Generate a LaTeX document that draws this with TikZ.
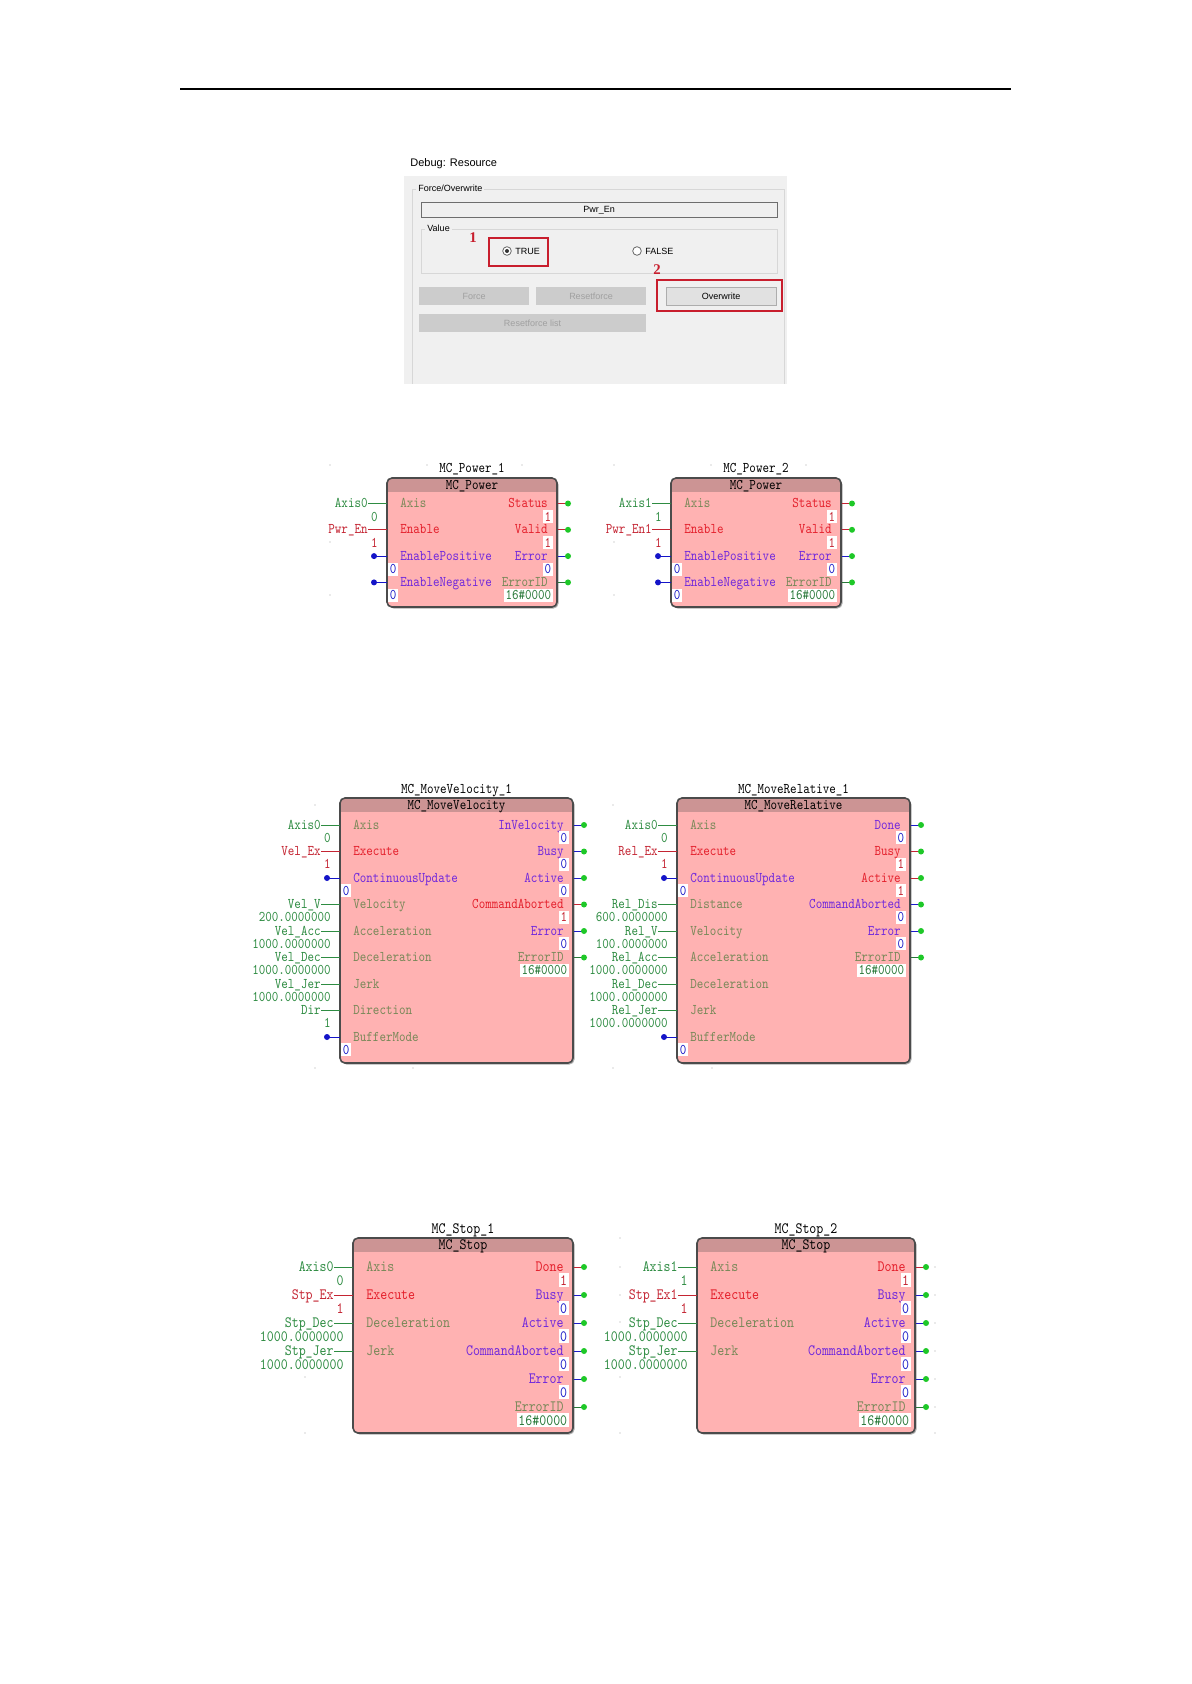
\documentclass[tikz,border=0pt]{standalone}
\usepackage{fontspec}
\setmainfont{Liberation Sans}
\newfontfamily\plcfont{lmmono10-regular}[Extension=.otf,FakeStretch=0.84]
\newfontfamily\digitfont{Liberation Serif}
\newcommand{\plcsize}{\fontsize{7.4}{8}\selectfont}
% dialog colours
\definecolor{panelgrey}{RGB}{240,240,240}
\definecolor{groupline}{RGB}{215,215,215}
\definecolor{boxline}{RGB}{110,110,110}
\definecolor{btnoff}{RGB}{204,204,204}
\definecolor{btntext}{RGB}{160,160,160}
\definecolor{btnon}{RGB}{225,225,225}
\definecolor{btnline}{RGB}{173,173,173}
\definecolor{markred}{RGB}{200,30,45}
% function block colours
\definecolor{fbbodyc}{RGB}{255,178,178}
\definecolor{fbheadc}{RGB}{204,148,148}
\definecolor{fbline}{RGB}{75,75,75}
\definecolor{fbshade}{RGB}{175,175,175}
\definecolor{pinolive}{RGB}{120,136,88}
\definecolor{pinred}{RGB}{228,32,44}
\definecolor{pinpurple}{RGB}{112,40,220}
\definecolor{vargreen}{RGB}{46,140,66}
\definecolor{varred}{RGB}{196,36,50}
\definecolor{valblue}{RGB}{28,28,200}
\definecolor{valgreen}{RGB}{40,120,56}
\definecolor{dotgreen}{RGB}{30,200,40}
\definecolor{dotblue}{RGB}{20,20,200}

\begin{document}
\begin{tikzpicture}[x=0.5pt,y=-0.5pt]
 \tikzstyle{plc} = [font=\plcfont\plcsize,inner sep=0pt]
 \tikzstyle{valbox} = [fill=white,inner xsep=0.7pt,inner ysep=0.9pt]
 \tikzstyle{outdot} = [circle,fill=dotgreen,inner sep=0pt,minimum size=3pt]
 \tikzstyle{indot} = [circle,fill=dotblue,inner sep=0pt,minimum size=3pt]
 \tikzstyle{wire} = [line width=0.5pt]
 \tikzstyle{gridpt} = [gray!70]
 \tikzstyle{ui} = [font=\fontsize{4.5}{5}\selectfont,inner sep=0pt]
 \tikzstyle{btn} = [ui,fill=btnoff,text=btntext,minimum height=9pt]
 \tikzstyle{radio} = [circle,draw=black!60,fill=white,inner sep=0pt,minimum size=4.3pt]
 \tikzstyle{redframe} = [draw=markred,line width=1.1pt]
 \tikzstyle{num} = [font=\digitfont\bfseries\fontsize{7.4}{8}\selectfont,text=markred,inner sep=0pt]
 % block: left, top, right, bottom, instance, type
 \newcommand{\fblock}[6]{%
  \def\bl{#1}\def\br{#3}%
  \fill[fbshade,rounded corners=2.5pt] (#1+1.5,#2+1.5) rectangle (#3+1.5,#4+1.5);
  \begin{scope}
   \clip[rounded corners=2.5pt] (#1,#2) rectangle (#3,#4);
   \fill[fbbodyc] (#1,#2) rectangle (#3,#4);
   \fill[fbheadc] (#1,#2) rectangle (#3,#2+14);
  \end{scope}
  \draw[fbline,line width=0.8pt,rounded corners=2.5pt] (#1,#2) rectangle (#3,#4);
  \node[plc,anchor=base] (\fbn-title) at ({(#1+#3)/2},#2-5) {#5};
  \node[plc,anchor=base] (\fbn-type) at ({(#1+#3)/2},#2+11.5) {#6};
 }
 % input with variable: y, pin, colour, variable, colour, value, colour
 \newcommand{\fbin}[7]{%
  \coordinate (\fbn-#2-pin) at (\bl,#1);
  \node[plc,text=#3,anchor=base west] (\fbn-#2) at (\bl+13,#1+4) {#2};
  \node[plc,text=#5,anchor=base east] (\fbn-#2-var) at (\bl-19,#1+4) {#4};
  \node[plc,text=#7,anchor=base east] (\fbn-#2-val) at (\bl-9,#1+\vo+4) {#6};
  \draw[wire,#5] (\fbn-#2-var.east |- \fbn-#2-pin) -- (\fbn-#2-pin);
 }
 % open bool input: y, pin, colour
 \newcommand{\fbbool}[3]{%
  \coordinate (\fbn-#2-pin) at (\bl,#1);
  \node[plc,text=#3,anchor=base west] (\fbn-#2) at (\bl+13,#1+4) {#2};
  \draw[wire,dotblue] (\fbn-#2-pin) -- ++(-13,0) node[indot] (\fbn-#2-dot) {};
  \node[plc,valbox,text=valblue,anchor=base west] (\fbn-#2-val) at (\bl+1,#1+\vo+4) {0};
 }
 % output: y, pin, colour, value, colour
 \newcommand{\fbout}[5]{%
  \coordinate (\fbn-#2-pin) at (\br,#1);
  \node[plc,text=#3,anchor=base east] (\fbn-#2) at (\br-9,#1+4) {#2};
  \draw[wire,#5] (\fbn-#2-pin) -- ++(11,0) node[outdot] (\fbn-#2-dot) {};
  \draw[fbline,line width=0.8pt] (\br,#1-4.5) -- (\br,#1+4.5);
  \node[plc,valbox,text=#5,anchor=base east] (\fbn-#2-val) at (\br-4,#1+\vo+4) {#4};
 }

 \fill[white] (0,0) rectangle (1191,1684);
 \useasboundingbox (0,0) rectangle (1191,1684);
 \draw[line width=0.65pt] (180,89) -- (1011,89);

% Dialog
 \node[anchor=base west,inner sep=0pt,font=\fontsize{5.5}{6}\selectfont] (dlg-title) at (410,167) {Debug: Resource};
 \fill[panelgrey] (404,176) rectangle (787,384);
 \draw[groupline] (412,384) |- (784,189) -- (784,384);
 \node[ui,fill=panelgrey,inner xsep=1pt,anchor=base west] (grp-force) at (416,191.5) {Force/Overwrite};
 \draw[boxline,fill=panelgrey] (421,202) rectangle (777,217);
 \node[ui,anchor=base] (var-name) at (599,212.7) {Pwr\_En};
 \draw[groupline] (421,229) rectangle (777,273);
 \node[ui,fill=panelgrey,inner xsep=1pt,anchor=base west] (grp-value) at (425,231.5) {Value};
 \node[radio] (rb-true) at (507,251) {};
 \fill[black!80] (rb-true.center) circle[radius=2];
 \node[ui,anchor=base west] (lb-true) at (515,254.3) {TRUE};
 \node[radio] (rb-false) at (637,251) {};
 \node[ui,anchor=base west] (lb-false) at (645,254.3) {FALSE};
 \node[num] (mark-one) at (473,238) {1};
 \draw[redframe] (489,238) rectangle (548,266);
 \node[btn,minimum width=55pt] (btn-force) at (474,296) {Force};
 \node[btn,minimum width=55pt] (btn-reset) at (591,296) {Resetforce};
 \node[btn,minimum width=55pt,fill=btnon,draw=btnline,text=black] (btn-over) at (721,296) {Overwrite};
 \node[btn,minimum width=113.5pt] (btn-list) at (532.5,323) {Resetforce list};
 \node[num] (mark-two) at (657,270) {2};
 \draw[redframe] (657,280) rectangle (782,311);

% MC_Power blocks
 \def\vo{13.5}
 \def\fbn{pw1}
 \fblock{387}{478}{557}{607}{MC\_Power\_1}{MC\_Power}
 \fbin{503.5}{Axis}{pinolive}{Axis0}{vargreen}{0}{vargreen}
 \fbin{529.8}{Enable}{pinred}{Pwr\_En}{varred}{1}{varred}
 \fbbool{556.1}{EnablePositive}{pinpurple}
 \fbbool{582.4}{EnableNegative}{pinpurple}
 \fbout{503.5}{Status}{pinred}{1}{varred}
 \fbout{529.8}{Valid}{pinred}{1}{varred}
 \fbout{556.1}{Error}{pinpurple}{0}{valblue}
 \fbout{582.4}{ErrorID}{pinolive}{16\#0000}{valgreen}

 \def\fbn{pw2}
 \fblock{671}{478}{841}{607}{MC\_Power\_2}{MC\_Power}
 \fbin{503.5}{Axis}{pinolive}{Axis1}{vargreen}{1}{vargreen}
 \fbin{529.8}{Enable}{pinred}{Pwr\_En1}{varred}{1}{varred}
 \fbbool{556.1}{EnablePositive}{pinpurple}
 \fbbool{582.4}{EnableNegative}{pinpurple}
 \fbout{503.5}{Status}{pinred}{1}{varred}
 \fbout{529.8}{Valid}{pinred}{1}{varred}
 \fbout{556.1}{Error}{pinpurple}{0}{valblue}
 \fbout{582.4}{ErrorID}{pinolive}{16\#0000}{valgreen}
 \foreach \gx/\gy in {330/465,330/542,330/595,427/465,522/465,614/465,614/542,614/595,711/465,806/465}
  \fill[gridpt] (\gx,\gy) circle[radius=0.6];

% MC_MoveVelocity and MC_MoveRelative
 \def\vo{13.3}
 \def\fbn{mv1}
 \fblock{340}{798}{573}{1063}{MC\_MoveVelocity\_1}{MC\_MoveVelocity}
 \fbin{825}{Axis}{pinolive}{Axis0}{vargreen}{0}{vargreen}
 \fbin{851.5}{Execute}{pinred}{Vel\_Ex}{varred}{1}{varred}
 \fbbool{878}{ContinuousUpdate}{pinpurple}
 \fbin{904.5}{Velocity}{pinolive}{Vel\_V}{vargreen}{200.0000000}{vargreen}
 \fbin{931}{Acceleration}{pinolive}{Vel\_Acc}{vargreen}{1000.0000000}{vargreen}
 \fbin{957.5}{Deceleration}{pinolive}{Vel\_Dec}{vargreen}{1000.0000000}{vargreen}
 \fbin{984}{Jerk}{pinolive}{Vel\_Jer}{vargreen}{1000.0000000}{vargreen}
 \fbin{1010.5}{Direction}{pinolive}{Dir}{vargreen}{1}{vargreen}
 \fbbool{1037}{BufferMode}{pinolive}
 \fbout{825}{InVelocity}{pinpurple}{0}{valblue}
 \fbout{851.5}{Busy}{pinpurple}{0}{valblue}
 \fbout{878}{Active}{pinpurple}{0}{valblue}
 \fbout{904.5}{CommandAborted}{pinred}{1}{varred}
 \fbout{931}{Error}{pinpurple}{0}{valblue}
 \fbout{957.5}{ErrorID}{pinolive}{16\#0000}{valgreen}

 \def\fbn{mr1}
 \fblock{677}{798}{910}{1063}{MC\_MoveRelative\_1}{MC\_MoveRelative}
 \fbin{825}{Axis}{pinolive}{Axis0}{vargreen}{0}{vargreen}
 \fbin{851.5}{Execute}{pinred}{Rel\_Ex}{varred}{1}{varred}
 \fbbool{878}{ContinuousUpdate}{pinpurple}
 \fbin{904.5}{Distance}{pinolive}{Rel\_Dis}{vargreen}{600.0000000}{vargreen}
 \fbin{931}{Velocity}{pinolive}{Rel\_V}{vargreen}{100.0000000}{vargreen}
 \fbin{957.5}{Acceleration}{pinolive}{Rel\_Acc}{vargreen}{1000.0000000}{vargreen}
 \fbin{984}{Deceleration}{pinolive}{Rel\_Dec}{vargreen}{1000.0000000}{vargreen}
 \fbin{1010.5}{Jerk}{pinolive}{Rel\_Jer}{vargreen}{1000.0000000}{vargreen}
 \fbbool{1037}{BufferMode}{pinolive}
 \fbout{825}{Done}{pinpurple}{0}{valblue}
 \fbout{851.5}{Busy}{pinred}{1}{varred}
 \fbout{878}{Active}{pinred}{1}{varred}
 \fbout{904.5}{CommandAborted}{pinpurple}{0}{valblue}
 \fbout{931}{Error}{pinpurple}{0}{valblue}
 \fbout{957.5}{ErrorID}{pinolive}{16\#0000}{valgreen}
 \foreach \gx/\gy in {315/805,315/1068,413/1068,613/805,613/1068,712/1068}
  \fill[gridpt] (\gx,\gy) circle[radius=0.6];

% MC_Stop blocks
 \renewcommand{\plcsize}{\fontsize{7.9}{9}\selectfont}
 \def\vo{14}
 \def\fbn{st1}
 \fblock{353}{1238}{573}{1433}{MC\_Stop\_1}{MC\_Stop}
 \fbin{1267}{Axis}{pinolive}{Axis0}{vargreen}{0}{vargreen}
 \fbin{1295}{Execute}{pinred}{Stp\_Ex}{varred}{1}{varred}
 \fbin{1323}{Deceleration}{pinolive}{Stp\_Dec}{vargreen}{1000.0000000}{vargreen}
 \fbin{1351}{Jerk}{pinolive}{Stp\_Jer}{vargreen}{1000.0000000}{vargreen}
 \fbout{1267}{Done}{pinred}{1}{varred}
 \fbout{1295}{Busy}{pinpurple}{0}{valblue}
 \fbout{1323}{Active}{pinpurple}{0}{valblue}
 \fbout{1351}{CommandAborted}{pinpurple}{0}{valblue}
 \fbout{1379}{Error}{pinpurple}{0}{valblue}
 \fbout{1407}{ErrorID}{pinolive}{16\#0000}{valgreen}

 \def\fbn{st2}
 \fblock{697}{1238}{915}{1433}{MC\_Stop\_2}{MC\_Stop}
 \fbin{1267}{Axis}{pinolive}{Axis1}{vargreen}{1}{vargreen}
 \fbin{1295}{Execute}{pinred}{Stp\_Ex1}{varred}{1}{varred}
 \fbin{1323}{Deceleration}{pinolive}{Stp\_Dec}{vargreen}{1000.0000000}{vargreen}
 \fbin{1351}{Jerk}{pinolive}{Stp\_Jer}{vargreen}{1000.0000000}{vargreen}
 \fbout{1267}{Done}{pinred}{1}{varred}
 \fbout{1295}{Busy}{pinpurple}{0}{valblue}
 \fbout{1323}{Active}{pinpurple}{0}{valblue}
 \fbout{1351}{CommandAborted}{pinpurple}{0}{valblue}
 \fbout{1379}{Error}{pinpurple}{0}{valblue}
 \fbout{1407}{ErrorID}{pinolive}{16\#0000}{valgreen}
 \foreach \gx/\gy in {305/1377,305/1433,620/1238,620/1267,620/1295,620/1322,620/1377,620/1433,935/1267,935/1295,935/1323,935/1351,935/1379,935/1407,935/1433}
  \fill[gridpt] (\gx,\gy) circle[radius=0.6];
\end{tikzpicture}
\end{document}
